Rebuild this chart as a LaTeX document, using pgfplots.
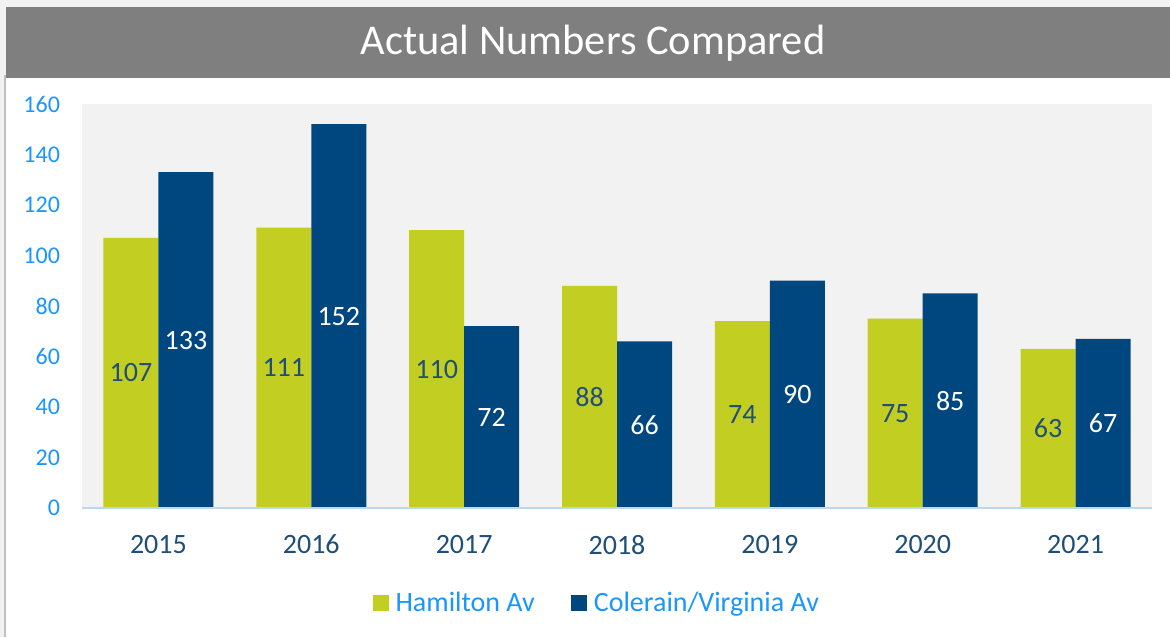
\documentclass[border=0pt]{standalone}
\usepackage{fontspec}
\setmainfont{Carlito}
\usepackage{pgfplots}
\pgfplotsset{compat=1.18}
\usepackage{pgfplotstable}
\definecolor{pagebg}{HTML}{F2F2F2}
\definecolor{plotbg}{HTML}{F2F2F2}
\definecolor{titlebar}{HTML}{7F7F7F}
\definecolor{hamgreen}{HTML}{C3CE23}
\definecolor{coldblue}{HTML}{00467F}
\definecolor{tickblue}{RGB}{25,150,255}
\definecolor{xlab}{HTML}{1F4E79}
\definecolor{baseblue}{HTML}{BDD7EE}
\definecolor{leftline}{HTML}{BFBFBF}
\pgfplotstableread{
x ham col
0 107 133
1 111 152
2 110 72
3 88 66
4 74 90
5 75 85
6 63 67
}\datatable
\begin{document}
\begin{tikzpicture}
\useasboundingbox (0pt,0pt) rectangle (585pt,318.5pt);
\fill[pagebg] (0pt,0pt) rectangle (585pt,318.5pt);
\fill[white] (3pt,0pt) rectangle (585pt,279.5pt);
\fill[titlebar] (3pt,279.5pt) rectangle (585pt,315pt);
\draw[leftline, line width=1pt] (2.5pt,0pt) -- (2.5pt,281pt);
\node[font=\fontsize{21.2}{25}\selectfont, text=white] at (296.5pt,297pt) {Actual Numbers Compared};
\begin{axis}[
  at={(41pt,64.5pt)}, anchor=south west,
  scale only axis, width=535pt, height=202pt,
  ybar=0pt, bar width=27.5pt,
  xmin=-0.5, xmax=6.5, ymin=0, ymax=160,
  xtick=data, xticklabels={2015,2016,2017,2018,2019,2020,2021},
  ytick={0,20,...,160},
  major tick length=0pt,
  axis line style={draw=none},
  axis background/.style={fill=plotbg},
  /pgf/number format/assume math mode=true,
  yticklabel style={font=\fontsize{12}{14}\selectfont, text=tickblue, xshift=-7.5pt},
  xticklabel style={font=\fontsize{14}{16}\selectfont, text=xlab, yshift=-10pt},
  visualization depends on={rawy \as \rawy},
  nodes near coords,
  every node near coord/.append style={font=\fontsize{14}{16}\selectfont, anchor=center, yshift=-\rawy*0.63125pt},
  legend columns=2,
  legend style={at={(0.482,-0.235)}, anchor=center, draw=none, fill=none,
    font=\fontsize{14}{16}\selectfont, text=tickblue,
    /tikz/every even column/.append style={column sep=16pt}},
  legend image code/.code={\fill[#1] (0pt,-4pt) rectangle (8pt,4pt); \path (9.5pt,0pt);},
]
\addplot[fill=hamgreen, draw=none, nodes near coords style={text=xlab}] table[x=x,y=ham] {\datatable};
\addplot[fill=coldblue, draw=none, nodes near coords style={text=white}] table[x=x,y=col] {\datatable};
\legend{Hamilton Av, Colerain/Virginia Av}
\draw[baseblue, line width=1pt] (rel axis cs:0,0) -- (rel axis cs:1,0);
\end{axis}
\end{tikzpicture}
\end{document}
